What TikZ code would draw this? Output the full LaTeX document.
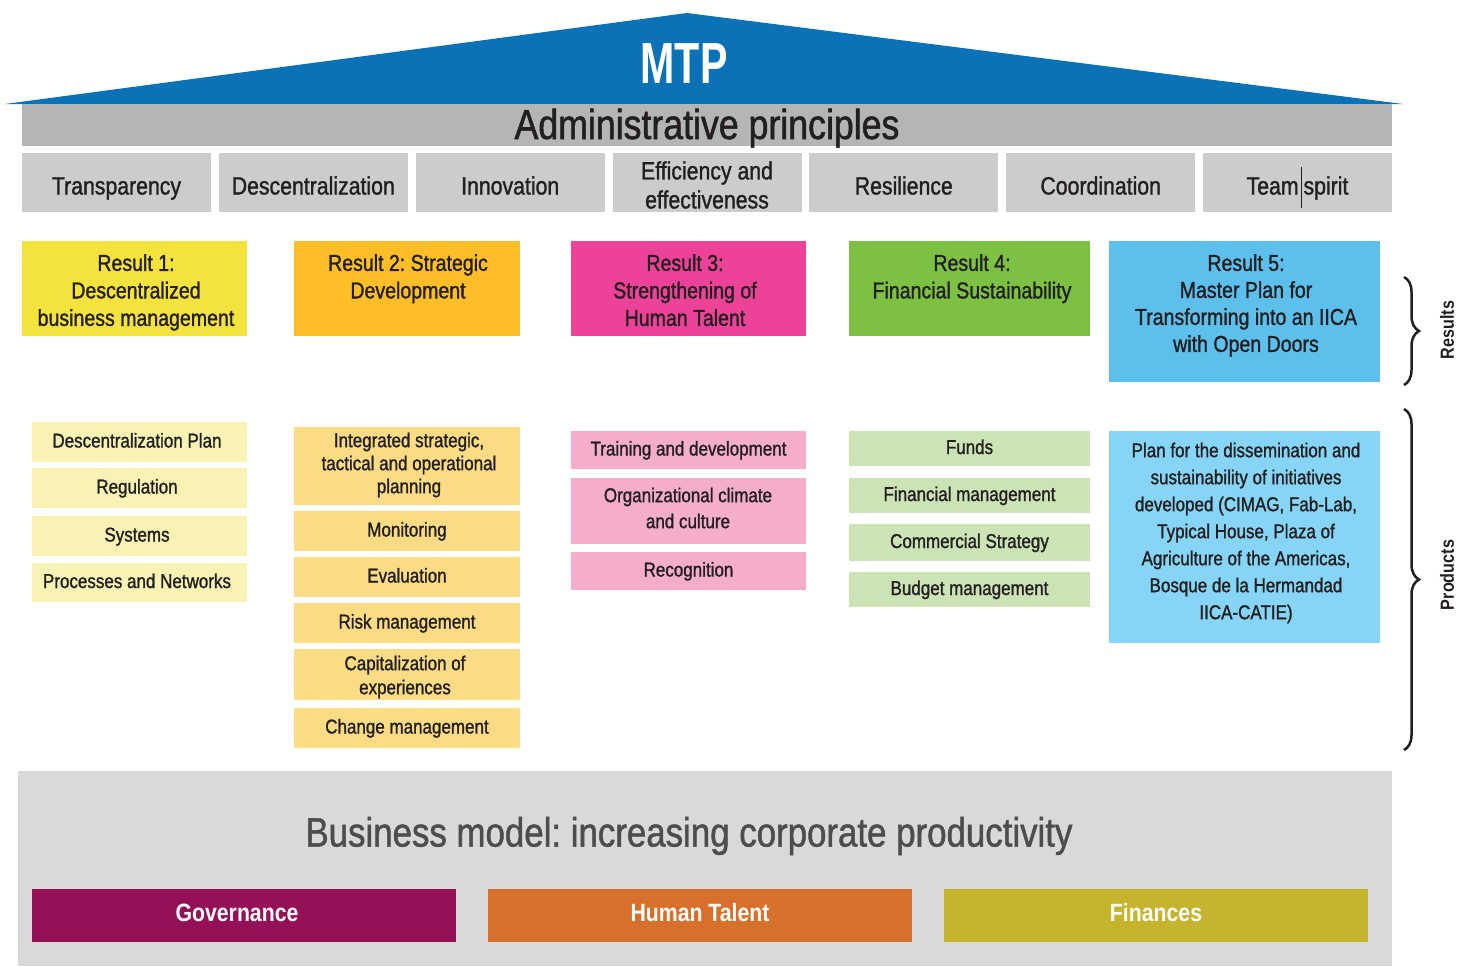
\documentclass[tikz,border=0pt]{standalone}
\usepackage{fontspec}
\setmainfont{Liberation Sans}[FakeStretch=0.85, UprightFeatures={FakeBold=1.2}]
\newfontfamily\mtpfont{Liberation Sans}[FakeStretch=0.71]
\usetikzlibrary{decorations.pathreplacing}
\definecolor{roofblue}{HTML}{0B72B8}
\definecolor{admgray}{HTML}{B4B5B4}
\definecolor{pgray}{HTML}{CBCCCB}
\definecolor{rone}{HTML}{F4E23D}
\definecolor{rtwo}{HTML}{FDBE27}
\definecolor{rthree}{HTML}{EC4399}
\definecolor{rfour}{HTML}{7DC143}
\definecolor{rfive}{HTML}{5DC0EC}
\definecolor{pone}{HTML}{F8F3B5}
\definecolor{ptwo}{HTML}{FBDC85}
\definecolor{pthree}{HTML}{F4ADCB}
\definecolor{pfour}{HTML}{CCE4B5}
\definecolor{pfive}{HTML}{86D5F6}
\definecolor{bmgray}{HTML}{D9DAD8}
\definecolor{govc}{HTML}{941157}
\definecolor{htc}{HTML}{D6702A}
\definecolor{finc}{HTML}{C6B32E}
\definecolor{ink}{HTML}{231F20}
\definecolor{titleink}{HTML}{4D4D4F}
\newcommand\fsz[2]{\fontsize{#1}{#2}\selectfont}
\frenchspacing
\begin{document}
\begin{tikzpicture}[x=1pt,y=-1pt,
  box/.style={anchor=north west, inner sep=0pt, outer sep=0pt, draw=none, text=ink, align=center},
  princbase/.style={box, fill=pgray, minimum width=189, minimum height=59, font=\fsz{25}{29}},
  princ/.style={princbase, text height=24pt, text depth=0pt},
  resbox/.style={box, minimum height=95},
  restxt/.style={anchor=north, inner sep=0pt, text=ink, align=center, font=\fsz{23}{27.5}},
  prodbase/.style={box, font=\fsz{20}{23}},
  prod/.style={prodbase, text height=15pt, text depth=4pt},
  freetxt/.style={inner sep=0pt, text=ink, align=center},
  pillar/.style={box, minimum width=424, minimum height=53, text=white, font=\fsz{25}{28}\bfseries, text height=18pt, text depth=7pt},
  bracestyle/.style={decorate, decoration={brace, amplitude=15pt}, line width=2.5pt, ink},
  side/.style={rotate=90, inner sep=0pt, text=ink, font=\fsz{19}{22}\bfseries}
]
\useasboundingbox (0,0) rectangle (1471,966);

% roof
\fill[roofblue] (5,104) -- (687,13) -- (1403,104) -- cycle;
\node[text=white, inner sep=0pt, font=\mtpfont\fsz{58}{60}\bfseries] (mtp) at (684,64) {MTP};

% administrative principles
\node[box, fill=admgray, minimum width=1370, minimum height=42, font=\fsz{42}{44}, text height=28pt, text depth=0pt] (adm) at (22,104) {Administrative principles};

\node[princ] (p0) at (22,153) {Transparency};
\node[princ] (p1) at (218.8,153) {Descentralization};
\node[princ] (p2) at (415.7,153) {Innovation};
\node[princbase] (p3) at (612.5,153) {};
\node[freetxt, font=\fsz{25}{29}] (p3t) at (707,185) {Efficiency and\\effectiveness};
\node[princ] (p4) at (809.3,153) {Resilience};
\node[princ] (p5) at (1006.2,153) {Coordination};
\node[princ] (p6) at (1203,153) {Team\hspace{2pt}\smash{\rule[-13.5pt]{1pt}{41pt}}\hspace{2pt}spirit};

% results
\node[resbox, fill=rone, minimum width=225] (r1) at (22,241) {};
\node[resbox, fill=rtwo, minimum width=226] (r2) at (294,241) {};
\node[resbox, fill=rthree, minimum width=235] (r3) at (571,241) {};
\node[resbox, fill=rfour, minimum width=241] (r4) at (849,241) {};
\node[box, fill=rfive, minimum width=271, minimum height=141] (r5) at (1109,241) {};

\node[restxt] (r1t) at (136,254) {Result 1:\\Descentralized\\business management};
\node[restxt] (r2t) at (408,254) {Result 2: Strategic\\Development};
\node[restxt] (r3t) at (685,254) {Result 3:\\Strengthening of\\Human Talent};
\node[restxt] (r4t) at (972,254) {Result 4:\\Financial Sustainability};
\node[restxt, font=\fsz{23}{27}] (r5t) at (1246,254) {Result 5:\\Master Plan for\\Transforming into an IICA\\with Open Doors};

% products column 1
\node[prod, fill=pone, minimum width=215, minimum height=40] (a1) at (32,422) {Descentralization Plan\hspace{5pt}};
\node[prod, fill=pone, minimum width=215, minimum height=40] (a2) at (32,468) {Regulation\hspace{5pt}};
\node[prod, fill=pone, minimum width=215, minimum height=40] (a3) at (32,516) {Systems\hspace{5pt}};
\node[prod, fill=pone, minimum width=215, minimum height=39] (a4) at (32,563) {Processes and Networks\hspace{5pt}};

% products column 2
\node[prodbase, fill=ptwo, minimum width=226, minimum height=78] (b1) at (294,427) {};
\node[freetxt, font=\fsz{20}{23}] (b1t) at (409,465) {Integrated strategic,\\tactical and operational\\planning};
\node[prod, fill=ptwo, minimum width=226, minimum height=40] (b2) at (294,511) {Monitoring};
\node[prod, fill=ptwo, minimum width=226, minimum height=40] (b3) at (294,557) {Evaluation};
\node[prod, fill=ptwo, minimum width=226, minimum height=40] (b4) at (294,603) {Risk management};
\node[prodbase, fill=ptwo, minimum width=226, minimum height=51] (b5) at (294,649) {};
\node[freetxt, font=\fsz{20}{24}] (b5t) at (405,677) {Capitalization of\\experiences};
\node[prod, fill=ptwo, minimum width=226, minimum height=40] (b6) at (294,708) {Change management};

% products column 3
\node[prod, fill=pthree, minimum width=235, minimum height=38] (c1) at (571,431) {Training and development};
\node[prodbase, fill=pthree, minimum width=235, minimum height=66] (c2) at (571,478) {};
\node[freetxt, font=\fsz{20}{26}] (c2t) at (688,508) {Organizational climate\\and culture};
\node[prod, fill=pthree, minimum width=235, minimum height=38] (c3) at (571,552) {Recognition};

% products column 4
\node[prod, fill=pfour, minimum width=241, minimum height=35] (d1) at (849,431) {Funds};
\node[prod, fill=pfour, minimum width=241, minimum height=35] (d2) at (849,478) {Financial management};
\node[prod, fill=pfour, minimum width=241, minimum height=37] (d3) at (849,524) {Commercial Strategy};
\node[prod, fill=pfour, minimum width=241, minimum height=35] (d4) at (849,572) {Budget management};

% products column 5
\node[box, fill=pfive, minimum width=271, minimum height=212] (e1) at (1109,431) {};
\node[freetxt, font=\fsz{20}{27}] (e1t) at (1246,533) {Plan for the dissemination and\\sustainability of initiatives\\developed (CIMAG, Fab-Lab,\\Typical House, Plaza of\\Agriculture of the Americas,\\Bosque de la Hermandad\\IICA-CATIE)};

% braces
\coordinate (rbtop) at (1404,277);
\coordinate (rbbot) at (1404,385);
\coordinate (pbtop) at (1404,409);
\coordinate (pbbot) at (1404,750);
\draw[bracestyle] (rbtop) -- (rbbot);
\draw[bracestyle] (pbtop) -- (pbbot);
\node[side] (lres) at (1447,330) {Results};
\node[side] (lprod) at (1447,575) {Products};

% business model
\node[box, fill=bmgray, minimum width=1374, minimum height=195] (bm) at (18,771) {};
\node[inner sep=0pt, text=titleink, font=\fsz{41}{44}, text height=31pt, text depth=0pt] (bmt) at (689,831) {Business model: increasing corporate productivity};
\node[pillar, fill=govc] (gov) at (32,889) {Governance\hspace{14pt}};
\node[pillar, fill=htc] (ht) at (488,889) {Human Talent};
\node[pillar, fill=finc] (fin) at (944,889) {Finances};
\end{tikzpicture}
\end{document}
